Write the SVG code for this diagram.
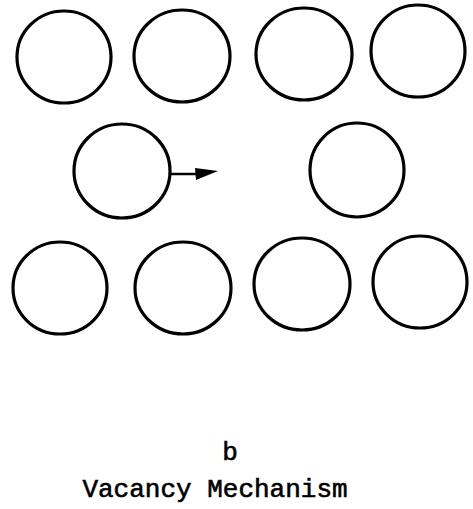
<svg xmlns="http://www.w3.org/2000/svg" width="473" height="509" viewBox="0 0 473 509">
<style>
.atom{fill:none;stroke:#000;stroke-width:3.2}
.lbl{font-family:"Liberation Mono","Courier New",monospace;font-size:26px;fill:#000;stroke:#000;stroke-width:0.6;text-anchor:middle}
</style>
<rect width="473" height="509" fill="#fff"/>
<g id="a1"><ellipse class="atom" cx="64" cy="57" rx="47" ry="46"/></g>
<g id="a2"><ellipse class="atom" cx="182" cy="56" rx="48" ry="46"/></g>
<g id="a3"><ellipse class="atom" cx="304" cy="54" rx="48" ry="46"/></g>
<g id="a4"><ellipse class="atom" cx="418" cy="51" rx="47" ry="46"/></g>
<g id="a5"><ellipse class="atom" cx="122" cy="171" rx="48" ry="47"/></g>
<g id="a6"><ellipse class="atom" cx="357" cy="170" rx="47" ry="47"/></g>
<g id="a7"><ellipse class="atom" cx="60" cy="288" rx="47" ry="46"/></g>
<g id="a8"><ellipse class="atom" cx="183" cy="288" rx="48" ry="46"/></g>
<g id="a9"><ellipse class="atom" cx="302" cy="284" rx="48" ry="46"/></g>
<g id="a10"><ellipse class="atom" cx="420" cy="282" rx="47" ry="46"/></g>
<g id="connectors">
<line x1="170" y1="174" x2="198" y2="174" stroke="#000" stroke-width="2.5"/>
<polygon points="195,168 218,171 196,180" fill="#000"/>
</g>
<text class="lbl" x="230" y="460">b</text>
<text class="lbl" x="215" y="497">Vacancy Mechanism</text>
</svg>
